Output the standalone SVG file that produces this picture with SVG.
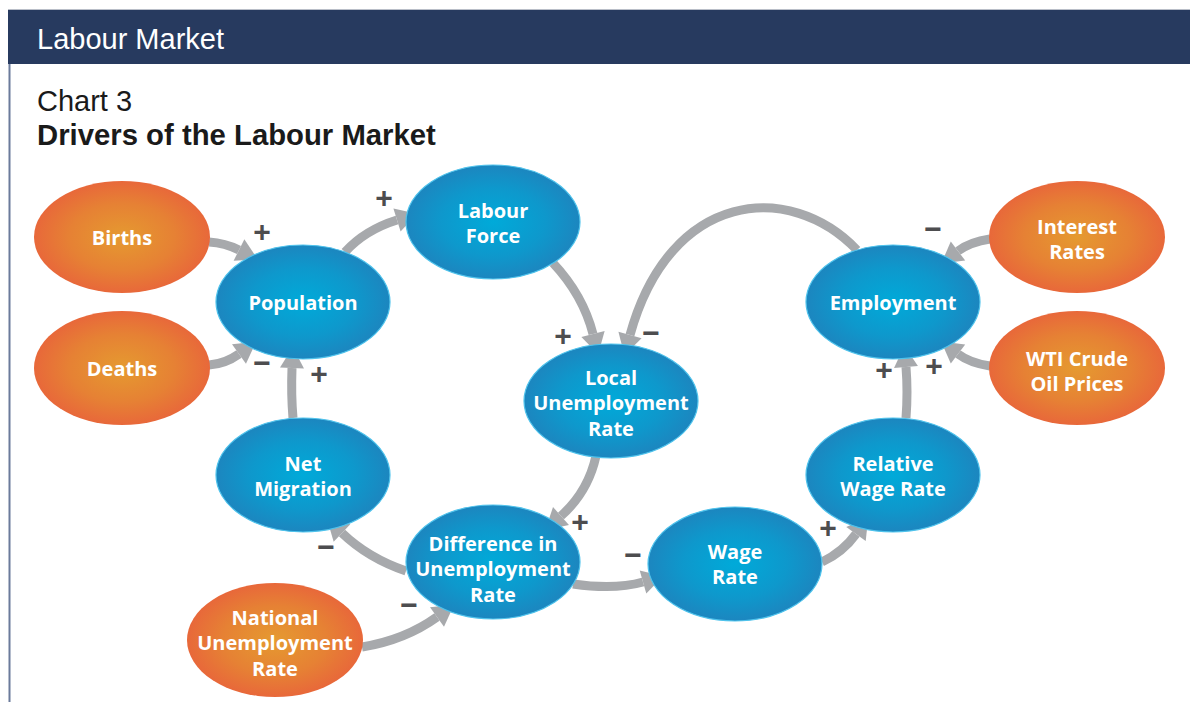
<svg xmlns="http://www.w3.org/2000/svg" width="1190" height="702" viewBox="0 0 1190 702">
  <defs>
    <radialGradient id="gBlue" cx="50%" cy="50%" r="50%">
      <stop offset="0" stop-color="#00aad9"/>
      <stop offset="0.6" stop-color="#0e98cc"/>
      <stop offset="1" stop-color="#1c86bf"/>
    </radialGradient>
    <radialGradient id="gOrange" cx="50%" cy="50%" r="50%">
      <stop offset="0" stop-color="#e59a30"/>
      <stop offset="0.6" stop-color="#e68134"/>
      <stop offset="1" stop-color="#e8683a"/>
    </radialGradient>
    <marker id="head" markerUnits="userSpaceOnUse" markerWidth="22" markerHeight="24" refX="0" refY="12" orient="auto" overflow="visible">
      <path d="M0,0 L21,12 L0,24 Z" fill="#a7a9ac"/>
    </marker>
    <style>
      .blue { fill: url(#gBlue); stroke: #4fc3ec; stroke-width: 1.2; }
      .orange { fill: url(#gOrange); stroke: none; }
      .lbl { font-family: "Open Sans", "Noto Sans", sans-serif; font-weight: 700; font-size: 20px; fill: #ffffff; text-anchor: middle; }
      .link { fill: none; stroke: #a7a9ac; stroke-width: 9; marker-end: url(#head); }
      .sign { font-family: "Liberation Sans", Arial, sans-serif; font-weight: 700; font-size: 30px; fill: #4d4d4f; text-anchor: middle; dominant-baseline: central; }
    </style>
  </defs>

  <rect x="0" y="0" width="1190" height="702" fill="#ffffff"/>

  <!-- header band and titles -->
  <g id="header">
    <rect x="8" y="9" width="1182" height="55" fill="#273a5f"/>
    <line x1="8" y1="9.5" x2="1190" y2="9.5" stroke="#b9bec8" stroke-width="1"/>
    <line x1="9.5" y1="64" x2="9.5" y2="702" stroke="#6b7b9b" stroke-width="2"/>
    <text x="37" y="49" font-family="'Liberation Sans', Arial, sans-serif" font-size="29" fill="#ffffff">Labour Market</text>
    <text x="37" y="111" font-family="'Liberation Sans', Arial, sans-serif" font-size="29" fill="#1a1a1a">Chart 3</text>
    <text x="37" y="145" font-family="'Liberation Sans', Arial, sans-serif" font-size="29.3" font-weight="700" fill="#1a1a1a">Drivers of the Labour Market</text>
  </g>

  <!-- connectors -->
  <g id="connectors">
    <path class="link" d="M209,242 Q225,243 239,250"/>
    <path class="link" d="M209,365 Q225,364 239,354"/>
    <path class="link" d="M345,252 Q365,230 397,220"/>
    <path class="link" d="M293,418 Q291,395 292,368"/>
    <path class="link" d="M553,263 Q583,295 593,334"/>
    <path class="link" d="M857,250 C790,180 670,190 630,335"/>
    <path class="link" d="M990,239 Q970,242 958,251"/>
    <path class="link" d="M990,366 Q970,363 958,354"/>
    <path class="link" d="M906,418 Q908,392 906,367"/>
    <path class="link" d="M596,456 Q588,492 561,516"/>
    <path class="link" d="M406,571 Q368,558 342,533"/>
    <path class="link" d="M362,647 Q405,640 437,617"/>
    <path class="link" d="M573,584 Q615,590 643,582"/>
    <path class="link" d="M822,562 Q843,552 856,534"/>
  </g>

  <!-- polarity signs -->
  <g id="signs">
    <text class="sign" x="262" y="231">+</text>
    <text class="sign" x="384" y="197">+</text>
    <text class="sign" x="262" y="362">−</text>
    <text class="sign" x="319" y="373">+</text>
    <text class="sign" x="563" y="335">+</text>
    <text class="sign" x="651" y="332">−</text>
    <text class="sign" x="933" y="228">−</text>
    <text class="sign" x="884" y="369">+</text>
    <text class="sign" x="934" y="365">+</text>
    <text class="sign" x="326" y="546">−</text>
    <text class="sign" x="580" y="521">+</text>
    <text class="sign" x="409" y="604">−</text>
    <text class="sign" x="633" y="554">−</text>
    <text class="sign" x="828" y="527">+</text>
  </g>

  <!-- nodes -->
  <g id="births">
    <ellipse class="orange" cx="122" cy="237" rx="88" ry="56"/>
    <text class="lbl" x="122" y="245">Births</text>
  </g>
  <g id="deaths">
    <ellipse class="orange" cx="122" cy="368" rx="88" ry="57"/>
    <text class="lbl" x="122" y="376">Deaths</text>
  </g>
  <g id="population">
    <ellipse class="blue" cx="303" cy="302" rx="87" ry="57"/>
    <text class="lbl" x="303" y="310">Population</text>
  </g>
  <g id="labour-force">
    <ellipse class="blue" cx="493" cy="222" rx="87" ry="57"/>
    <text class="lbl" x="493" y="218">Labour</text>
    <text class="lbl" x="493" y="243">Force</text>
  </g>
  <g id="local-unemployment-rate">
    <ellipse class="blue" cx="611" cy="401" rx="87" ry="57"/>
    <text class="lbl" x="611" y="385">Local</text>
    <text class="lbl" x="611" y="410">Unemployment</text>
    <text class="lbl" x="611" y="436">Rate</text>
  </g>
  <g id="employment">
    <ellipse class="blue" cx="893" cy="302" rx="87" ry="57"/>
    <text class="lbl" x="893" y="310">Employment</text>
  </g>
  <g id="interest-rates">
    <ellipse class="orange" cx="1077" cy="237" rx="88" ry="56"/>
    <text class="lbl" x="1077" y="234">Interest</text>
    <text class="lbl" x="1077" y="259">Rates</text>
  </g>
  <g id="wti-crude-oil-prices">
    <ellipse class="orange" cx="1077" cy="368" rx="88" ry="57"/>
    <text class="lbl" x="1077" y="366">WTI Crude</text>
    <text class="lbl" x="1077" y="391">Oil Prices</text>
  </g>
  <g id="net-migration">
    <ellipse class="blue" cx="303" cy="475" rx="87" ry="57"/>
    <text class="lbl" x="303" y="471">Net</text>
    <text class="lbl" x="303" y="496">Migration</text>
  </g>
  <g id="difference-in-unemployment-rate">
    <ellipse class="blue" cx="493" cy="562" rx="87" ry="57"/>
    <text class="lbl" x="493" y="551">Difference in</text>
    <text class="lbl" x="493" y="576">Unemployment</text>
    <text class="lbl" x="493" y="602">Rate</text>
  </g>
  <g id="national-unemployment-rate">
    <ellipse class="orange" cx="275" cy="640" rx="88" ry="57"/>
    <text class="lbl" x="275" y="625">National</text>
    <text class="lbl" x="275" y="650">Unemployment</text>
    <text class="lbl" x="275" y="676">Rate</text>
  </g>
  <g id="wage-rate">
    <ellipse class="blue" cx="735" cy="564" rx="87" ry="57"/>
    <text class="lbl" x="735" y="559">Wage</text>
    <text class="lbl" x="735" y="584">Rate</text>
  </g>
  <g id="relative-wage-rate">
    <ellipse class="blue" cx="893" cy="475" rx="87" ry="57"/>
    <text class="lbl" x="893" y="471">Relative</text>
    <text class="lbl" x="893" y="496">Wage Rate</text>
  </g>
</svg>
